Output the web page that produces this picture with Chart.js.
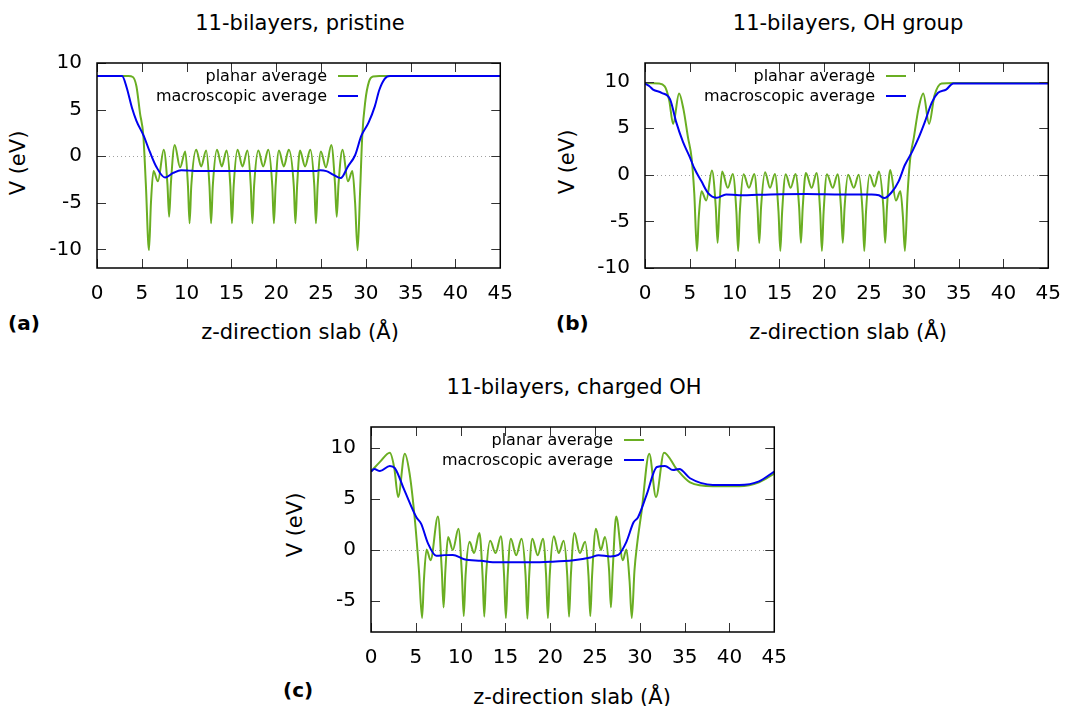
<!DOCTYPE html>
<html lang="en">
<head>
  <meta charset="UTF-8" />
  <title>Planar and macroscopic average potential</title>
  <script src="https://cdn.jsdelivr.net/npm/chart.js"></script>
  <style>
    body {
      margin: 0;
      width: 1069px;
      height: 706px;
      overflow: hidden;
      background: #fff;
      font-family: 'DejaVu Sans', sans-serif;
      color: #000;
    }

    canvas {
      position: absolute;
    }

    .lbl {
      position: absolute;
      transform: translate(-50%, -50%);
      white-space: nowrap;
      line-height: 1;
      font-size: 21px;
    }

    .vert {
      transform: translate(-50%, -50%) rotate(-90deg);
    }

    .tag {
      position: absolute;
      transform: translateY(-50%);
      font-weight: bold;
      font-size: 20px;
      line-height: 1;
    }
  </style>
</head>

<body>
  <!-- panel (a) -->
  <div class="lbl" style="left:300px;top:23px">11-bilayers, pristine</div>
  <div class="lbl vert" style="left:18px;top:163px">V (eV)</div>
  <div class="lbl" style="left:300px;top:332px">z-direction slab (Å)</div>
  <div class="tag" style="left:8px;top:323px">(a)</div>
  <canvas id="chartA" width="510" height="272" style="left:17px;top:36px"></canvas>

  <!-- panel (b) -->
  <div class="lbl" style="left:848px;top:23px">11-bilayers, OH group</div>
  <div class="lbl vert" style="left:567px;top:162px">V (eV)</div>
  <div class="lbl" style="left:848px;top:332px">z-direction slab (Å)</div>
  <div class="tag" style="left:556px;top:323px">(b)</div>
  <canvas id="chartB" width="510" height="272" style="left:565px;top:36px"></canvas>

  <!-- panel (c) -->
  <div class="lbl" style="left:574px;top:387px">11-bilayers, charged OH</div>
  <div class="lbl vert" style="left:295px;top:525px">V (eV)</div>
  <div class="lbl" style="left:572px;top:697px">z-direction slab (Å)</div>
  <div class="tag" style="left:283px;top:690px">(c)</div>
  <canvas id="chartC" width="510" height="272" style="left:291px;top:400px"></canvas>

  <script>
    // z (Å), V (eV) pairs
    const xTicks = [0, 5, 10, 15, 20, 25, 30, 35, 40, 45];
    const yTicksA = [-10, -5, 0, 5, 10];
    const yTicksB = [-10, -5, 0, 5, 10];
    const yTicksC = [-5, 0, 5, 10];

    const planarA = [
      [0, 8.6], [3.5, 8.6], [4.0, 8.5], [4.4, 7.5], [4.8, 4.6], [5.17, 2.2], [5.45, -3], [5.8, -10.1],
      [6.02, -5], [6.3, -1.6], [6.8, -2.7], [7.45, 0.7], [7.86, -3.0], [8.05, -6.5], [8.24, -3.0],
      [8.67, 1.2], [9.27, -1.2], [9.85, 0.5], [10.15, -3.2], [10.33, -7.2], [10.52, -3.2],
      [11.07, 0.7], [11.62, -1.1], [12.18, 0.6], [12.55, -3.2], [12.73, -7.2], [12.92, -3.2],
      [13.39, 0.7], [13.92, -1.1], [14.46, 0.6], [14.88, -3.2], [15.06, -7.2], [15.25, -3.2],
      [15.68, 0.7], [16.23, -1.1], [16.79, 0.6], [17.16, -3.2], [17.34, -7.2], [17.53, -3.2],
      [18.0, 0.6], [18.55, -1.1], [19.11, 0.7], [19.56, -3.2], [19.74, -7.2], [19.93, -3.2],
      [20.3, 0.6], [20.85, -1.1], [21.4, 0.7], [21.96, -3.2], [22.14, -7.2], [22.33, -3.2],
      [22.65, 0.6], [23.22, -1.1], [23.8, 0.7], [24.25, -3.2], [24.43, -7.2], [24.62, -3.2],
      [24.98, 0.5], [25.55, -1.2], [26.15, 1.2], [26.56, -3.0], [26.75, -6.5], [26.95, -3.0],
      [27.4, 0.7], [28.0, -2.7], [28.5, -1.6], [28.8, -5], [29.08, -10.1], [29.35, -4],
      [29.6, 2.2], [29.95, 6.0], [30.35, 8.0], [30.8, 8.55], [31.5, 8.6], [45, 8.6]
    ];
    const macroA = [
      [0, 8.6], [2.8, 8.6], [3.3, 7.4], [3.9, 5.2], [4.4, 3.8], [5.2, 2.2], [5.9, 0.45], [6.6, -1.1],
      [7.6, -2.3], [8.5, -1.8], [9.4, -1.5], [10.3, -1.55], [11.1, -1.6], [17.4, -1.6], [24.4, -1.6],
      [24.9, -1.5], [25.6, -1.6], [26.4, -2.0], [27.2, -2.35], [28.0, -1.1], [28.8, 0.1], [29.5, 2.2],
      [30.3, 3.6], [31.0, 5.35], [31.5, 7.1], [32.1, 8.3], [32.7, 8.6], [45, 8.6]
    ];

    const planarB = [
      [0, 9.86], [1.5, 9.8], [2.2, 9.5], [2.7, 8.0], [3.14, 5.46], [3.8, 8.73], [4.3, 7.0], [4.8, 4.0],
      [5.2, 1.8], [5.5, -2], [5.8, -8.17], [6.0, -4.5], [6.3, -1.76], [6.84, -2.75], [7.47, 0.46],
      [7.9, -3.5], [8.1, -7.3], [8.3, -3.5], [8.6, 0.35], [9.24, -1.4], [9.8, 0.1], [10.2, -4],
      [10.39, -8.17], [10.58, -4], [11.0, 0.07], [11.6, -1.4], [12.2, 0.1], [12.55, -3.5], [12.75, -7.3],
      [12.95, -3.5], [13.4, 0.28], [13.95, -1.4], [14.5, 0.1], [14.9, -4], [15.1, -8.17], [15.3, -4],
      [15.7, 0.07], [16.25, -1.4], [16.8, 0.1], [17.2, -3.5], [17.4, -7.3], [17.6, -3.5], [17.95, 0.2],
      [18.6, -1.4], [19.15, 0.2], [19.55, -4], [19.74, -8.17], [19.93, -4], [20.3, 0.07], [20.95, -1.4],
      [21.5, 0.07], [21.87, -3.5], [22.07, -7.3], [22.27, -3.5], [22.66, 0.0], [23.3, -1.4], [23.85, 0.0],
      [24.28, -4], [24.47, -8.17], [24.66, -4], [25.06, 0.0], [25.6, -1.25], [26.1, 0.35], [26.6, -3.5],
      [26.8, -7.3], [27.0, -3.5], [27.36, 0.53], [28.0, -2.75], [28.5, -1.76], [28.78, -4.5], [29.0, -8.17],
      [29.3, -2], [29.6, 1.8], [30.0, 4.0], [30.5, 7.0], [31.05, 8.73], [31.7, 5.46], [32.3, 8.5],
      [33.1, 9.8], [34.5, 9.86], [45, 9.86]
    ];
    const macroB = [
      [0, 9.8], [0.5, 9.5], [0.9, 9.15], [1.85, 8.8], [2.8, 8.1], [3.5, 5.6], [4.25, 3.5], [5.0, 1.9],
      [5.5, 0.7], [6.3, -0.7], [7.0, -1.9], [8.0, -2.46], [9.05, -2.1], [10.5, -2.2], [14, -2.1],
      [18, -2.05], [22, -2.1], [25.3, -2.1], [26.1, -2.2], [26.7, -2.5], [27.5, -1.9], [28.3, -0.7],
      [29.0, 1.05], [29.8, 2.46], [30.5, 3.9], [31.2, 5.6], [32.0, 7.75], [32.7, 8.8], [33.6, 9.15],
      [34.4, 9.8], [45, 9.8]
    ];

    const planarC = [
      [0, 7.66], [1.0, 8.6], [2.1, 9.5], [2.6, 8.0], [3.03, 5.17], [3.77, 9.4], [4.3, 7.5], [4.9, 2.9],
      [5.35, -2], [5.7, -6.64], [5.9, -3], [6.2, 0.06], [6.65, -1.0], [7.47, 3.26], [7.9, -2],
      [8.1, -5.6], [8.3, -2], [8.6, 1.28], [9.13, 0], [9.76, 2.07], [10.15, -2.5], [10.35, -6.45],
      [10.55, -2.5], [11.0, 0.8], [11.5, -0.3], [12.1, 1.66], [12.45, -2.5], [12.64, -6.5], [12.84, -2.5],
      [13.3, 0.9], [13.9, -0.3], [14.5, 1.34], [14.85, -2.5], [15.05, -6.64], [15.25, -2.5], [15.6, 1.1],
      [16.2, -0.5], [16.8, 1.1], [17.25, -2.5], [17.45, -6.7], [17.65, -2.5], [18.0, 1.1], [18.6, -0.5],
      [19.2, 1.1], [19.54, -2.5], [19.74, -6.64], [19.94, -2.5], [20.4, 1.34], [20.95, -0.3], [21.5, 0.9],
      [21.9, -2.5], [22.1, -6.5], [22.3, -2.5], [22.7, 1.66], [23.3, -0.3], [23.9, 0.8], [24.27, -2.5],
      [24.47, -6.45], [24.67, -2.5], [25.1, 2.07], [25.65, 0], [26.1, 1.28], [26.57, -2], [26.77, -5.6],
      [26.97, -2], [27.36, 3.26], [28.1, -1.0], [28.5, 0.06], [28.85, -3], [29.1, -6.64], [29.4, -2],
      [29.7, 0.6], [30.2, 3.8], [31.05, 9.4], [31.8, 5.17], [32.7, 9.5], [34.1, 7.9], [35.6, 6.6],
      [38.15, 6.22], [41.1, 6.22], [43.3, 6.6], [45, 7.45]
    ];
    const macroC = [
      [0, 7.66], [0.37, 7.9], [1.0, 7.7], [2.1, 8.2], [2.66, 7.98], [3.77, 5.74], [5.06, 3.2], [5.6, 2.55],
      [6.36, 0.64], [7.28, -0.57], [8.2, -0.5], [9.13, -0.48], [10.4, -0.9], [12.27, -1.05], [14.1, -1.2],
      [17.8, -1.2], [20.0, -1.15], [22.6, -1.0], [24.5, -0.73], [25.4, -0.5], [26.7, -0.64], [27.6, -0.48],
      [28.5, 0.8], [29.3, 2.7], [29.8, 3.2], [30.76, 5.4], [31.9, 8.1], [32.8, 8.2], [33.7, 7.8],
      [34.4, 7.9], [35.6, 7.0], [38.15, 6.35], [41.1, 6.35], [43.3, 6.7], [45, 7.66]
    ];

    Chart.defaults.font.family = "'DejaVu Sans', sans-serif";
    Chart.defaults.color = '#000';

    // gnuplot style box with inward ticks on all four sides, plus dotted zero axis
    const gnuFrame = {
      id: 'gnuFrame',
      beforeDatasetsDraw(chart) {
        const { ctx, chartArea: a, scales: { y } } = chart;
        const y0 = Math.round(y.getPixelForValue(0)) + 0.5;
        ctx.save();
        ctx.strokeStyle = '#a0a0a0';
        ctx.lineWidth = 1;
        ctx.setLineDash([1, 3]);
        ctx.beginPath();
        ctx.moveTo(a.left, y0);
        ctx.lineTo(a.right, y0);
        ctx.stroke();
        ctx.restore();
      },
      afterDatasetsDraw(chart) {
        const { ctx, chartArea: a, scales: { x, y } } = chart;
        const len = 9;
        ctx.save();
        ctx.strokeStyle = '#333';
        ctx.lineWidth = 1;
        ctx.beginPath();
        x.ticks.forEach(t => {
          const px = Math.round(x.getPixelForValue(t.value)) + 0.5;
          ctx.moveTo(px, a.bottom); ctx.lineTo(px, a.bottom - len);
          ctx.moveTo(px, a.top); ctx.lineTo(px, a.top + len);
        });
        y.ticks.forEach(t => {
          const py = Math.round(y.getPixelForValue(t.value)) + 0.5;
          ctx.moveTo(a.left, py); ctx.lineTo(a.left + len, py);
          ctx.moveTo(a.right, py); ctx.lineTo(a.right - len, py);
        });
        ctx.stroke();
        ctx.strokeStyle = '#000';
        ctx.lineWidth = 1.5;
        ctx.strokeRect(a.left, a.top, a.right - a.left, a.bottom - a.top);
        ctx.restore();
      }
    };

    // key: label right-aligned, line sample to its right
    const gnuKey = {
      id: 'gnuKey',
      afterDatasetsDraw(chart, args, opts) {
        const { ctx, chartArea: a } = chart;
        const xr = a.left + opts.right;
        ctx.save();
        ctx.font = "16px 'DejaVu Sans'";
        ctx.textAlign = 'right';
        ctx.textBaseline = 'middle';
        chart.data.datasets.forEach((ds, i) => {
          const yy = a.top + opts.rows[i];
          ctx.fillStyle = '#000';
          ctx.fillText(ds.label, xr, yy + 1);
          ctx.strokeStyle = ds.borderColor;
          ctx.lineWidth = 2;
          ctx.beginPath();
          ctx.moveTo(xr + 11, yy);
          ctx.lineTo(xr + 31, yy);
          ctx.stroke();
        });
        ctx.restore();
      }
    };

    function toPoints(arr) {
      return arr.map(p => ({ x: p[0], y: p[1] }));
    }

    function makePanel(id, planar, macro, yMin, yMax, yTicks, keyRight) {
      return new Chart(document.getElementById(id), {
        type: 'line',
        data: {
          datasets: [
            {
              label: 'planar average',
              data: toPoints(planar),
              borderColor: '#6aae22',
              borderWidth: 2,
              pointRadius: 0,
              cubicInterpolationMode: 'monotone',
              order: 1
            },
            {
              label: 'macroscopic average',
              data: toPoints(macro),
              borderColor: '#0000f0',
              borderWidth: 2,
              pointRadius: 0,
              cubicInterpolationMode: 'monotone',
              order: 0
            }
          ]
        },
        options: {
          responsive: false,
          animation: false,
          events: [],
          layout: { padding: { top: 24, right: 24, left: 0, bottom: 0 } },
          plugins: {
            legend: { display: false },
            tooltip: { enabled: false },
            gnuKey: { right: keyRight, rows: [13, 33] }
          },
          scales: {
            x: {
              type: 'linear',
              min: 0,
              max: 45,
              afterBuildTicks: s => { s.ticks = xTicks.map(v => ({ value: v })); },
              afterFit: s => { s.height = 40; },
              grid: { display: false, drawTicks: false },
              border: { display: false },
              ticks: { padding: 14, font: { size: 20 }, maxRotation: 0, autoSkip: false, callback: v => String(v) }
            },
            y: {
              min: yMin,
              max: yMax,
              afterBuildTicks: s => { s.ticks = yTicks.map(v => ({ value: v })); },
              afterFit: s => { s.width = 80; },
              grid: { display: false, drawTicks: false },
              border: { display: false },
              ticks: { padding: 15, font: { size: 20 }, callback: v => String(v) }
            }
          }
        },
        plugins: [gnuFrame, gnuKey]
      });
    }

    makePanel('chartA', planarA, macroA, -12, 10, yTicksA, 230);
    makePanel('chartB', planarB, macroB, -10, 12, yTicksB, 230);
    makePanel('chartC', planarC, macroC, -8, 12, yTicksC, 242);
  </script>
</body>

</html>
